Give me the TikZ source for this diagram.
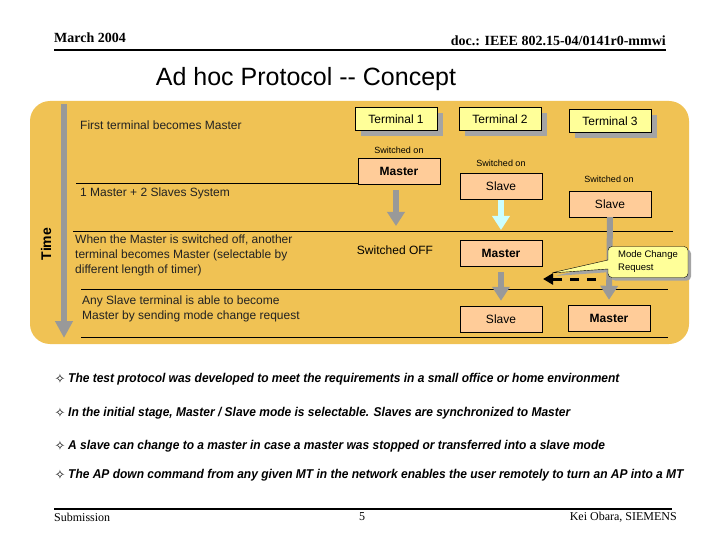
\documentclass[tikz,border=0pt]{standalone}
\usepackage{fontspec}
\setmainfont{Liberation Sans}
\newfontfamily\timesfont{Liberation Serif}
\newfontfamily\narrowfont[FakeStretch=0.94]{Liberation Sans}
\newfontfamily\symfont{DejaVu Sans}
\usetikzlibrary{arrows.meta, positioning, shapes.callouts, shadows}
\definecolor{panelgold}{HTML}{F0C254}
\definecolor{termyellow}{HTML}{FFFF99}
\definecolor{statepeach}{HTML}{FFCC99}
\definecolor{shadowgrey}{HTML}{A4A4A4}
\definecolor{arrowgrey}{HTML}{999999}
\definecolor{slavecyan}{HTML}{CCFFFF}
\definecolor{textdark}{HTML}{222222}

\begin{document}
\begin{tikzpicture}[x=1pt, y=-1pt,
        font=\fontsize{12}{14}\selectfont,
        termbox/.style={draw=black, fill=termyellow, minimum width=82pt, minimum height=23pt,
                        inner sep=0pt, drop shadow={shadow xshift=6pt, shadow yshift=-6pt,
                        fill=shadowgrey, opacity=1}},
        statebox/.style={draw=black, fill=statepeach, minimum width=82pt, minimum height=26pt,
                         inner sep=0pt},
        smalltxt/.style={font=\fontsize{9}{11}\selectfont, inner sep=0pt},
        note/.style={anchor=west, inner sep=0pt, align=left, text=textdark},
        sepline/.style={draw=black, line width=0.7pt},
        downarr/.style={draw=arrowgrey, line width=6pt, -{Triangle[length=14pt,width=17pt]}},
        slavearr/.style={downarr, draw=slavecyan},
        dasharr/.style={draw=black, line width=3pt, dash pattern=on 9pt off 8pt,
                        -{Triangle[length=10pt,width=11pt]}},
        callbox/.style={rectangle callout, draw=black, fill=termyellow, rounded corners=4pt,
                        minimum width=80pt, minimum height=31pt, align=left, inner sep=3pt,
                        font=\fontsize{9.5}{13}\selectfont, callout pointer width=9pt,
                        drop shadow={shadow xshift=3pt, shadow yshift=-3pt, fill=shadowgrey, opacity=1}},
        bullettxt/.style={anchor=west, inner sep=0pt, font=\narrowfont\bfseries\itshape\fontsize{12.75}{14}\selectfont},
      ]
  \useasboundingbox (0,0) rectangle (720,540);

  % header
  \node[anchor=west, inner sep=0pt, font=\timesfont\bfseries\fontsize{14}{16}\selectfont] (date) at (54,38) {March 2004};
  \node[anchor=east, inner sep=0pt, font=\timesfont\bfseries\fontsize{14}{16}\selectfont] (docid) at (666,41) {doc.: IEEE 802.15-04/0141r0-mmwi};
  \draw[line width=2.5pt] (54,50) -- (666,50);
  \node[font=\fontsize{25}{28}\selectfont] (title) at (306,79) {Ad hoc Protocol -{}- Concept};

  % panel
  \fill[panelgold, rounded corners=20pt] (30,101) rectangle (689,344);
  \draw[downarr, -{Triangle[length=17pt,width=17pt]}] (64,104) coordinate (tstart) -- (64,338) coordinate (tend);
  \node[rotate=90, font=\bfseries\fontsize{14}{16}\selectfont] (timelbl) at (46,244) {Time};

  \draw[sepline] (76,183) -- (358,183);
  \draw[sepline] (73,231) -- (673,231);
  \draw[sepline] (81,289) -- (668,289);
  \draw[sepline] (81,337) -- (668,337);

  \node[note] (first) at (80,125) {First terminal becomes Master};
  \node[note] (system) at (80,193) {1 Master + 2 Slaves System};
  \node[note, font=\fontsize{12}{15}\selectfont] (switchoff) at (75,255) {When the Master is switched off, another\\terminal becomes Master (selectable by\\different length of timer)};
  \node[note, font=\fontsize{12}{15}\selectfont] (anyslave) at (82,309) {Any Slave terminal is able to become\\Master by sending mode change request};

  % terminals
  \node[termbox] (term1) at (396,119) {Terminal 1};
  \node[termbox] (term2) at (500,119) {Terminal 2};
  \node[termbox] (term3) at (610,121) {Terminal 3};

  \node[smalltxt] (on1) at (399,150) {Switched on};
  \node[smalltxt] (on2) at (501,163) {Switched on};
  \node[smalltxt] (on3) at (609,179) {Switched on};

  \node[statebox, font=\bfseries\fontsize{12}{14}\selectfont] (m1) at (399,171) {Master};
  \node[statebox] (s2) at (501,186) {Slave};
  \node[statebox] (s3) at (610,204) {Slave};

  \node[inner sep=0pt] (off1) at (395,250) {Switched OFF};
  \node[statebox, font=\bfseries\fontsize{12}{14}\selectfont] (m2) at (501,253) {Master};
  \node[statebox] (s2b) at (501,319) {Slave};
  \node[statebox, font=\bfseries\fontsize{12}{14}\selectfont] (m3) at (609,318) {Master};

  \coordinate (t1end) at (396,226);
  \coordinate (t2end) at (501,230);
  \draw[downarr] ([yshift=-6pt]m1.south -| t1end) -- (t1end);
  \draw[slavearr] ([yshift=-1pt]s2.south) -- (t2end);
  \draw[downarr] ([yshift=-6pt]m2.south) -- ([yshift=5pt]s2b.north);
  \draw[downarr] (s3.south) -- ([yshift=5pt]m3.north);

  % mode change request
  \coordinate (dashstart) at (596,279);
  \coordinate (dashend) at (543,279);
  \coordinate (reqtip) at (551,273);
  \draw[dasharr] (dashstart) -- (dashend);
  \node[callbox, callout absolute pointer={(reqtip)}] (req) at (648,262) {Mode Change\\Request};

  % bullets
  \foreach \ypos/\btext [count=\i] in {379/{The test protocol was developed to meet the requirements in a small office or home environment},
      413/{In the initial stage, Master / Slave mode is selectable. Slaves are synchronized to Master},
      446/{A slave can change to a master in case a master was stopped or transferred into a slave mode},
      475/{The AP down command from any given MT in the network enables the user remotely to turn an AP into a MT}} {
    \node[font=\symfont\fontsize{13}{15}\selectfont, inner sep=0pt] (mark\i) at (60,\ypos) {✧};
    \node[bullettxt] (bul\i) at (68,\ypos) {\btext};
  }

  % footer
  \draw[line width=2.5pt] (54,509) -- (672,509);
  \node[anchor=west, inner sep=0pt, font=\timesfont\fontsize{12}{14}\selectfont] (submit) at (54,517) {Submission};
  \node[inner sep=0pt, font=\timesfont\fontsize{12}{14}\selectfont] (pagenum) at (362,517) {5};
  \node[anchor=east, inner sep=0pt, font=\timesfont\fontsize{12}{14}\selectfont] (author) at (677,517) {Kei Obara, SIEMENS};
\end{tikzpicture}
\end{document}
